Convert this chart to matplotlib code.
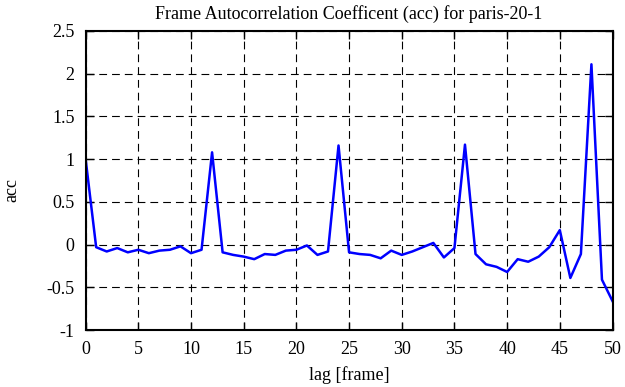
import matplotlib
matplotlib.use('Agg')
import matplotlib.pyplot as plt
import numpy as np

# lag values and autocorrelation
lag = np.arange(0, 51)
acc = [1.00, -0.03, -0.08, -0.04, -0.09, -0.06, -0.10, -0.07, -0.06, -0.02,
       -0.10, -0.06, 1.08, -0.09, -0.12, -0.14, -0.17, -0.11, -0.12, -0.07,
       -0.06, -0.01, -0.12, -0.08, 1.16, -0.09, -0.11, -0.12, -0.16, -0.07,
       -0.12, -0.08, -0.03, 0.02, -0.15, -0.04, 1.17, -0.11, -0.23, -0.26,
       -0.32, -0.17, -0.20, -0.14, -0.03, 0.17, -0.39, -0.11, 2.11, -0.41,
       -0.66]

xticks = np.arange(0, 51, 5)
yticks = [-1, -0.5, 0, 0.5, 1, 1.5, 2, 2.5]
ytick_labels = ['-1', '-0.5', '0', '0.5', '1', '1.5', '2', '2.5']

plt.rcParams['font.family'] = ['Liberation Serif', 'DejaVu Serif']
plt.rcParams['font.size'] = 13

fig = plt.figure(figsize=(6.25, 3.87), dpi=100)
ax = fig.add_axes([0.137, 0.147, 0.843, 0.773])

ax.plot(lag, acc, color='#0000ff', linewidth=1.8)

ax.set_xlim(0, 50)
ax.set_ylim(-1, 2.5)
ax.set_xticks(xticks)
ax.set_yticks(yticks)
ax.set_yticklabels(ytick_labels)
ax.tick_params(direction='in', length=6, width=1, top=True, right=True,
               labelsize=13, pad=8)
ax.grid(True, color='black', linestyle=(0, (7, 4.5)), linewidth=0.8)
for s in ax.spines.values():
    s.set_linewidth(1.5)

ax.set_title('Frame Autocorrelation Coefficent (acc) for paris-20-1',
             fontsize=13, pad=9)
ax.set_xlabel('lag [frame]', fontsize=13, labelpad=6)
ax.set_ylabel('acc', fontsize=13)
ax.yaxis.set_label_coords(-0.124, 0.47)

fig.savefig('out.png', dpi=100)
